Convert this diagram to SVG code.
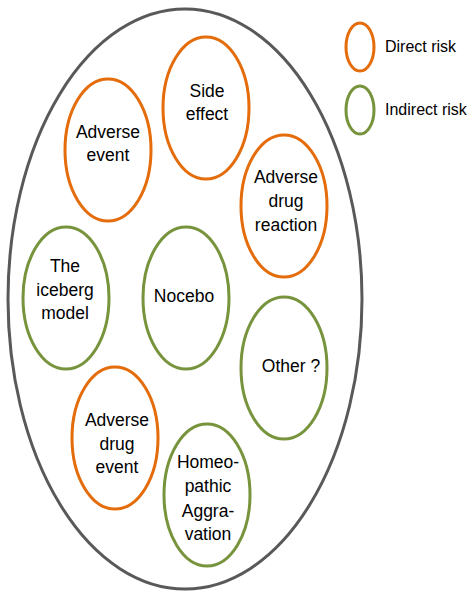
<svg xmlns="http://www.w3.org/2000/svg" width="470" height="592" viewBox="0 0 470 592">
<style>
.o{fill:none;stroke:#E46C0A;stroke-width:3}
.g{fill:none;stroke:#77933C;stroke-width:3}
.t{font-family:"Liberation Sans",Arial,sans-serif;font-size:17.5px;fill:#000;text-anchor:middle}
.l{font-family:"Liberation Sans",Arial,sans-serif;font-size:16px;fill:#000}
</style>
<rect width="470" height="592" fill="#fff"/>
<g id="outer"><ellipse cx="185" cy="299" rx="177" ry="290" fill="none" stroke="#595959" stroke-width="3"/></g>
<g id="legend-direct"><ellipse class="o" cx="360" cy="47" rx="14" ry="24"/><text class="l" x="385" y="52">Direct risk</text></g>
<g id="legend-indirect"><ellipse class="g" cx="360" cy="110" rx="14" ry="24"/><text class="l" x="385" y="115">Indirect risk</text></g>
<g id="side-effect"><ellipse class="o" cx="206" cy="108" rx="43" ry="71"/><text class="t" x="207" y="97">Side</text><text class="t" x="207" y="120">effect</text></g>
<g id="adverse-event"><ellipse class="o" cx="108" cy="150" rx="43" ry="71"/><text class="t" x="108" y="138">Adverse</text><text class="t" x="108" y="161">event</text></g>
<g id="adverse-drug-reaction"><ellipse class="o" cx="284" cy="206" rx="43" ry="71"/><text class="t" x="286" y="183">Adverse</text><text class="t" x="286" y="207">drug</text><text class="t" x="286" y="231">reaction</text></g>
<g id="iceberg"><ellipse class="g" cx="66" cy="298" rx="43" ry="71"/><text class="t" x="65" y="272">The</text><text class="t" x="65" y="296">iceberg</text><text class="t" x="65" y="319">model</text></g>
<g id="nocebo"><ellipse class="g" cx="186" cy="298" rx="43" ry="71"/><text class="t" x="184" y="302">Nocebo</text></g>
<g id="other"><ellipse class="g" cx="284" cy="368" rx="43" ry="71"/><text class="t" x="291" y="372">Other ?</text></g>
<g id="adverse-drug-event"><ellipse class="o" cx="115" cy="438" rx="43" ry="71"/><text class="t" x="117" y="426">Adverse</text><text class="t" x="117" y="450">drug</text><text class="t" x="117" y="473">event</text></g>
<g id="homeopathic"><ellipse class="g" cx="207" cy="495" rx="43" ry="71"/><text class="t" x="208" y="468">Homeo-</text><text class="t" x="208" y="492">pathic</text><text class="t" x="208" y="517">Aggra-</text><text class="t" x="208" y="540">vation</text></g>
<g id="connectors"/>
</svg>
